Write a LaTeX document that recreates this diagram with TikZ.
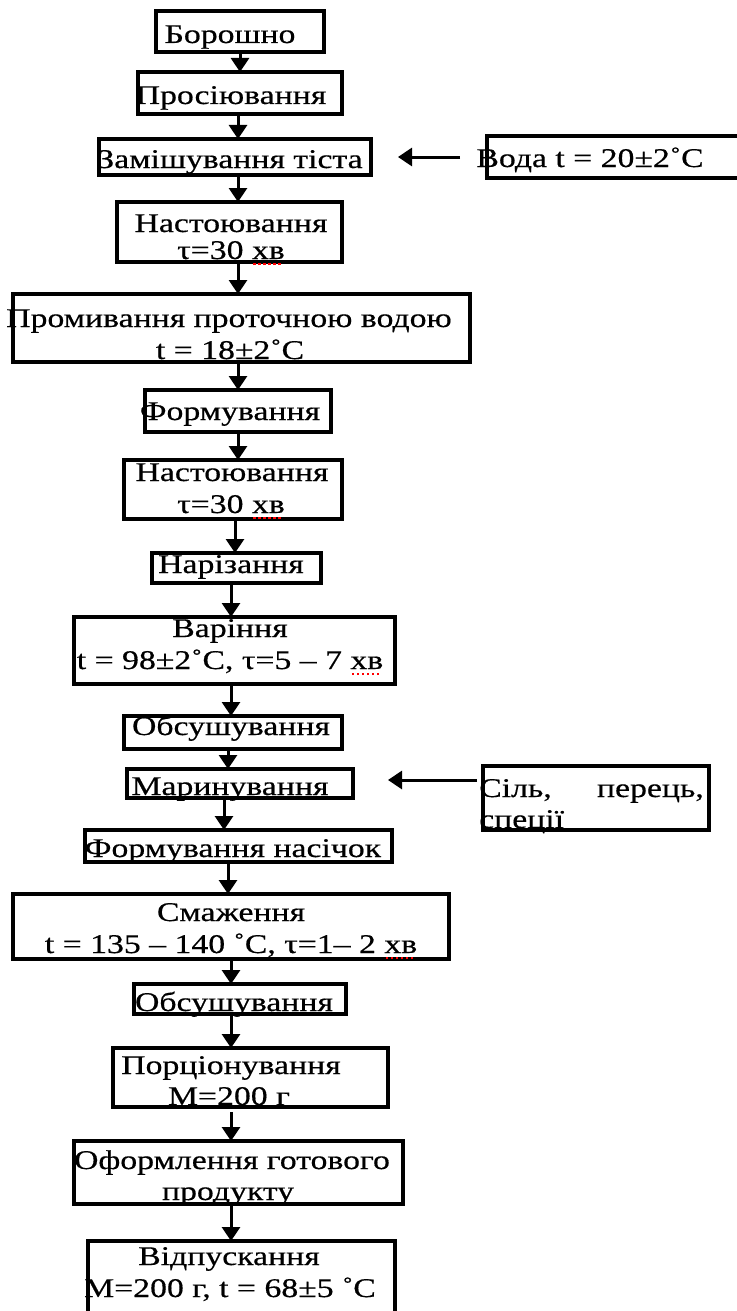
\documentclass[tikz,border=0pt]{standalone}
\usepackage{fontspec}
\setmainfont{Liberation Serif}[FakeStretch=1.25,FakeBold=0.5]
\usetikzlibrary{arrows.meta}

% red dotted spell-check mark under a word
\newsavebox\squigbox
\newcommand\squig[1]{\sbox\squigbox{#1}\leavevmode\rlap{\raisebox{-6pt}{\color{red}\leaders\hbox to 5pt{\hss\vrule width 2.5pt height 2.5pt\hss}\hskip\wd\squigbox}}\usebox\squigbox}

% rectangle node given by its corner coordinates (x1,y1,x2,y2)
\newcommand\flowbox[5]{\node[box,minimum width={#4-#2},minimum height={#5-#3}] (#1) at ({(#2+#4)/2},{(#3+#5)/2}) {};}

\begin{document}
\begin{tikzpicture}[x=1pt,y=-1pt,
  box/.style={draw,line width=3.2pt,inner sep=0pt,outer sep=0pt},
  txt/.style={anchor=base,inner sep=0pt,font=\fontsize{27}{31}\selectfont},
  arr/.style={line width=3pt,-{Triangle[width=18pt,length=14pt]}}]
\useasboundingbox (0,0) rectangle (736,1311);

% process boxes
\flowbox{b1}{156}{11}{324}{52}
\flowbox{b2}{138}{72}{342}{114}
\flowbox{b3}{99}{139}{371}{175}
\flowbox{bw}{487}{136}{760}{178}
\flowbox{b4}{117}{202}{342}{262}
\flowbox{b5}{13}{294}{470}{362}
\flowbox{b6}{145}{390}{331}{432}
\flowbox{b7}{124}{460}{342}{519}
\flowbox{b8}{152}{553}{321}{583}
\flowbox{b9}{74}{617}{395}{684}
\flowbox{b10}{124}{716}{342}{749}
\flowbox{b11}{127}{769}{353}{798}
\flowbox{bs}{483}{766}{709}{830}
\flowbox{b12}{85}{830}{392}{862}
\flowbox{b13}{13}{894}{449}{959}
\flowbox{b14}{134}{984}{346}{1014}
\flowbox{b15}{113}{1048}{388}{1107}
\flowbox{b16}{74}{1141}{403}{1204}
\flowbox{b17}{88}{1241}{395}{1330}

% labels
\node[txt] (t1) at (230,43) {Борошно};
\node[txt] (t2) at (231,104) {Просіювання};
\node[txt] (t3) at (230,168) {Замішування тіста};
\node[txt] (tw) at (590,167) {Вода t = 20±2˚C};
\node[txt] (t4a) at (231,232) {Настоювання};
\node[txt] (t4b) at (231,259) {τ=30 \squig{хв}};
\node[txt] (t5a) at (229,327) {Промивання проточною водою};
\node[txt] (t5b) at (230,359) {t = 18±2˚C};
\node[txt] (t6) at (230,420) {Формування};
\node[txt] (t7a) at (232,481) {Настоювання};
\node[txt] (t7b) at (231,513) {τ=30 \squig{хв}};
\node[txt] (t8) at (231,573) {Нарізання};
\node[txt] (t9a) at (230,637) {Варіння};
\node[txt] (t9b) at (230,669) {t = 98±2˚C, τ=5 – 7 \squig{хв}};
\node[txt] (t10) at (231,735) {Обсушування};
\node[txt] (t11) at (230,795) {Маринування};
\node[txt,anchor=base west] (ts1) at (479,797) {Сіль,};
\node[txt,anchor=base east] (ts2) at (704,797) {перець,};
\node[txt,anchor=base west] (ts3) at (479,828) {спеції};
\node[txt] (t12) at (233,857) {Формування насічок};
\node[txt] (t13a) at (231,921) {Смаження};
\node[txt] (t13b) at (231,953) {t = 135 – 140 ˚C, τ=1– 2 \squig{хв}};
\node[txt] (t14) at (234,1011) {Обсушування};
\node[txt] (t15a) at (231,1074) {Порціонування};
\node[txt] (t15b) at (229,1105) {М=200 г};
\node[txt] (t16a) at (232,1169) {Оформлення готового};
\node[txt] (t16b) at (228,1200) {продукту};
\node[txt] (t17a) at (229,1265) {Відпускання};
\node[txt] (t17b) at (230,1297) {М=200 г, t = 68±5 ˚C};

% main flow
\draw[arr] (b1.south -| 240,0) -- (b2.north -| 240,0);
\draw[arr] (b2.south -| 238,0) -- (b3.north -| 238,0);
\draw[arr] (b3.south -| 238,0) -- (b4.north -| 238,0);
\draw[arr] (b4.south -| 238,0) -- (b5.north -| 238,0);
\draw[arr] (b5.south -| 238,0) -- (b6.north -| 238,0);
\draw[arr] (b6.south -| 238,0) -- (b7.north -| 238,0);
\draw[arr] (b7.south -| 235,0) -- (b8.north -| 235,0);
\draw[arr] (b8.south -| 231,0) -- (b9.north -| 231,0);
\draw[arr] (b9.south -| 231,0) -- (b10.north -| 231,0);
\draw[arr] (b10.south -| 228,0) -- (b11.north -| 228,0);
\draw[arr] (b11.south -| 224,0) -- (b12.north -| 224,0);
\draw[arr] (b12.south -| 228,0) -- (b13.north -| 228,0);
\draw[arr] (b13.south -| 231,0) -- (b14.north -| 231,0);
\draw[arr] (b14.south -| 231,0) -- (b15.north -| 231,0);
\draw[arr,shorten <=5pt] (b15.south -| 231,0) -- (b16.north -| 231,0);
\draw[arr] (b16.south -| 231,0) -- (b17.north -| 231,0);

% side inputs
\draw[arr,shorten <=27pt,shorten >=27pt] (bw.west |- 0,157) -- (b3.east |- 0,157);
\draw[arr,shorten <=6pt,shorten >=35pt] (bs.west |- 0,780) -- (b11.east |- 0,780);
\end{tikzpicture}
\end{document}
